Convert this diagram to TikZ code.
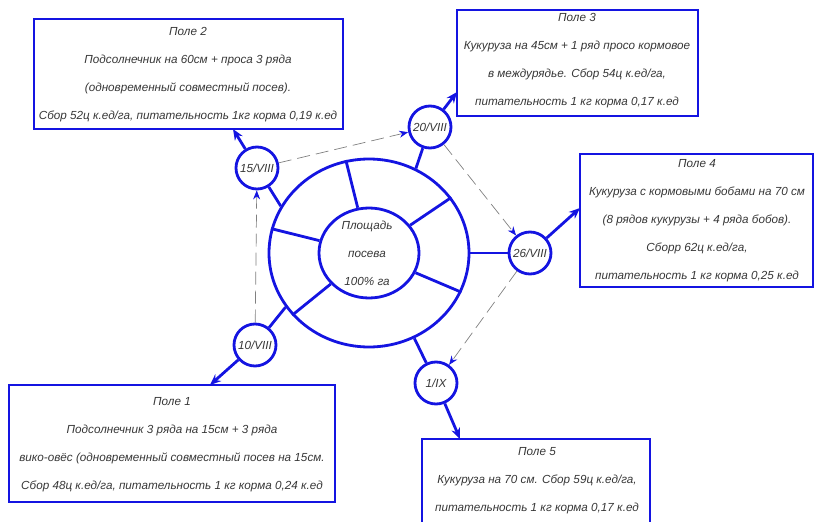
\documentclass[tikz,border=0pt]{standalone}
\usepackage{fontspec}
\setmainfont{Liberation Sans}
\usetikzlibrary{arrows.meta,shapes.geometric}
\definecolor{dblue}{RGB}{20,20,225}
\definecolor{txt}{RGB}{55,55,55}
\begin{document}
\begin{tikzpicture}[x=1pt,y=-1pt,
  every node/.style={font=\itshape\fontsize{11.7}{28}\selectfont, text=txt},
  blueline/.style={draw=dblue, line width=2.8pt},
  fieldbox/.style={draw=dblue, line width=2.8pt, rectangle, inner sep=0pt},
  datecirc/.style={draw=dblue, line width=2.8pt, circle, minimum size=42pt, inner sep=0pt},
  solidarrow/.style={draw=dblue, line width=2.8pt, -{Stealth[length=11pt,width=9pt]}},
  dasharrow/.style={draw=black!50, line width=0.7pt, dash pattern=on 13pt off 6pt,
     -{Stealth[length=9pt,width=7pt,color=dblue]}},
  txtblock/.style={align=center, inner sep=0pt}
]
\useasboundingbox (0,0) rectangle (815,522);
\clip (0,0) rectangle (815,522);

% central ring
\node[ellipse, blueline, minimum width=200pt, minimum height=188pt, inner sep=0pt] (ring) at (369,253) {};
\node[ellipse, blueline, minimum width=100pt, minimum height=90pt, inner sep=0pt] (hub) at (369,253) {};
\node[txtblock] (hubtxt) at (367,253) {Площадь\\посева\\100\% га};
\foreach \a in {104,34,-23,219,166} \draw[blueline] (hub.\a) -- (ring.\a);

% date circles
\node[datecirc] (c15) at (257,168) {15/VIII};
\node[datecirc] (c20) at (430,127) {20/VIII};
\node[datecirc] (c26) at (530,253) {26/VIII};
\node[datecirc] (c1)  at (436,383) {1/IX};
\node[datecirc] (c10) at (255,345) {10/VIII};

\draw[blueline] (ring.152) -- (c15);
\draw[blueline] (ring.61) -- (c20);
\draw[blueline] (ring.0) -- (c26);
\draw[blueline] (ring.-62.6) -- (c1);
\draw[blueline] (ring.213) -- (c10);

% field boxes
\node[fieldbox, minimum width=309pt, minimum height=110pt] (b2) at (188.5,74) {};
\node[fieldbox, minimum width=241pt, minimum height=106pt] (b3) at (577.5,63) {};
\node[fieldbox, minimum width=233pt, minimum height=133pt] (b4) at (696.5,220.5) {};
\node[fieldbox, minimum width=326pt, minimum height=117pt] (b1) at (172,443.5) {};
\node[fieldbox, minimum width=228pt, minimum height=100pt] (b5) at (536,489) {};

\node[txtblock] (t2txt) at (188,75) {Поле 2\\Подсолнечник на 60см + проса 3 ряда\\(одновременный совместный посев).\\Сбор 52ц к.ед/га, питательность 1кг корма 0,19 к.ед};
\node[txtblock] (t3txt) at (577,61) {Поле 3\\Кукуруза на 45см + 1 ряд просо кормовое\\в междурядье. Сбор 54ц к.ед/га,\\питательность 1 кг корма 0,17 к.ед};
\node[txtblock] (t4txt) at (697,221) {Поле 4\\Кукуруза с кормовыми бобами на 70 см\\(8 рядов кукурузы + 4 ряда бобов).\\Сборр 62ц к.ед/га,\\питательность 1 кг корма 0,25 к.ед};
\node[txtblock] (t1txt) at (172,445) {Поле 1\\Подсолнечник 3 ряда на 15см + 3 ряда\\вико-овёс (одновременный совместный посев на 15см.\\Сбор 48ц к.ед/га, питательность 1 кг корма 0,24 к.ед};
\node[txtblock] (t5txt) at (537,481) {Поле 5\\Кукуруза на 70 см. Сбор 59ц к.ед/га,\\питательность 1 кг корма 0,17 к.ед};

% arrow targets on boxes
\coordinate (p2) at (233,129);
\coordinate (p3) at (457,92);
\coordinate (p4) at (580,208);
\coordinate (p1) at (210,385);
\coordinate (p5) at (460,439);

\draw[solidarrow] (c15) -- (p2);
\draw[solidarrow] (c20) -- (p3);
\draw[solidarrow] (c26) -- (p4);
\draw[solidarrow] (c10) -- (p1);
\draw[solidarrow] (c1) -- (p5);

% sequence (dashed)
\draw[dasharrow] (c10) -- (c15);
\draw[dasharrow] (c15) -- (c20);
\draw[dasharrow] (c20) -- (c26);
\draw[dasharrow] (c26) -- (c1);
\end{tikzpicture}
\end{document}
